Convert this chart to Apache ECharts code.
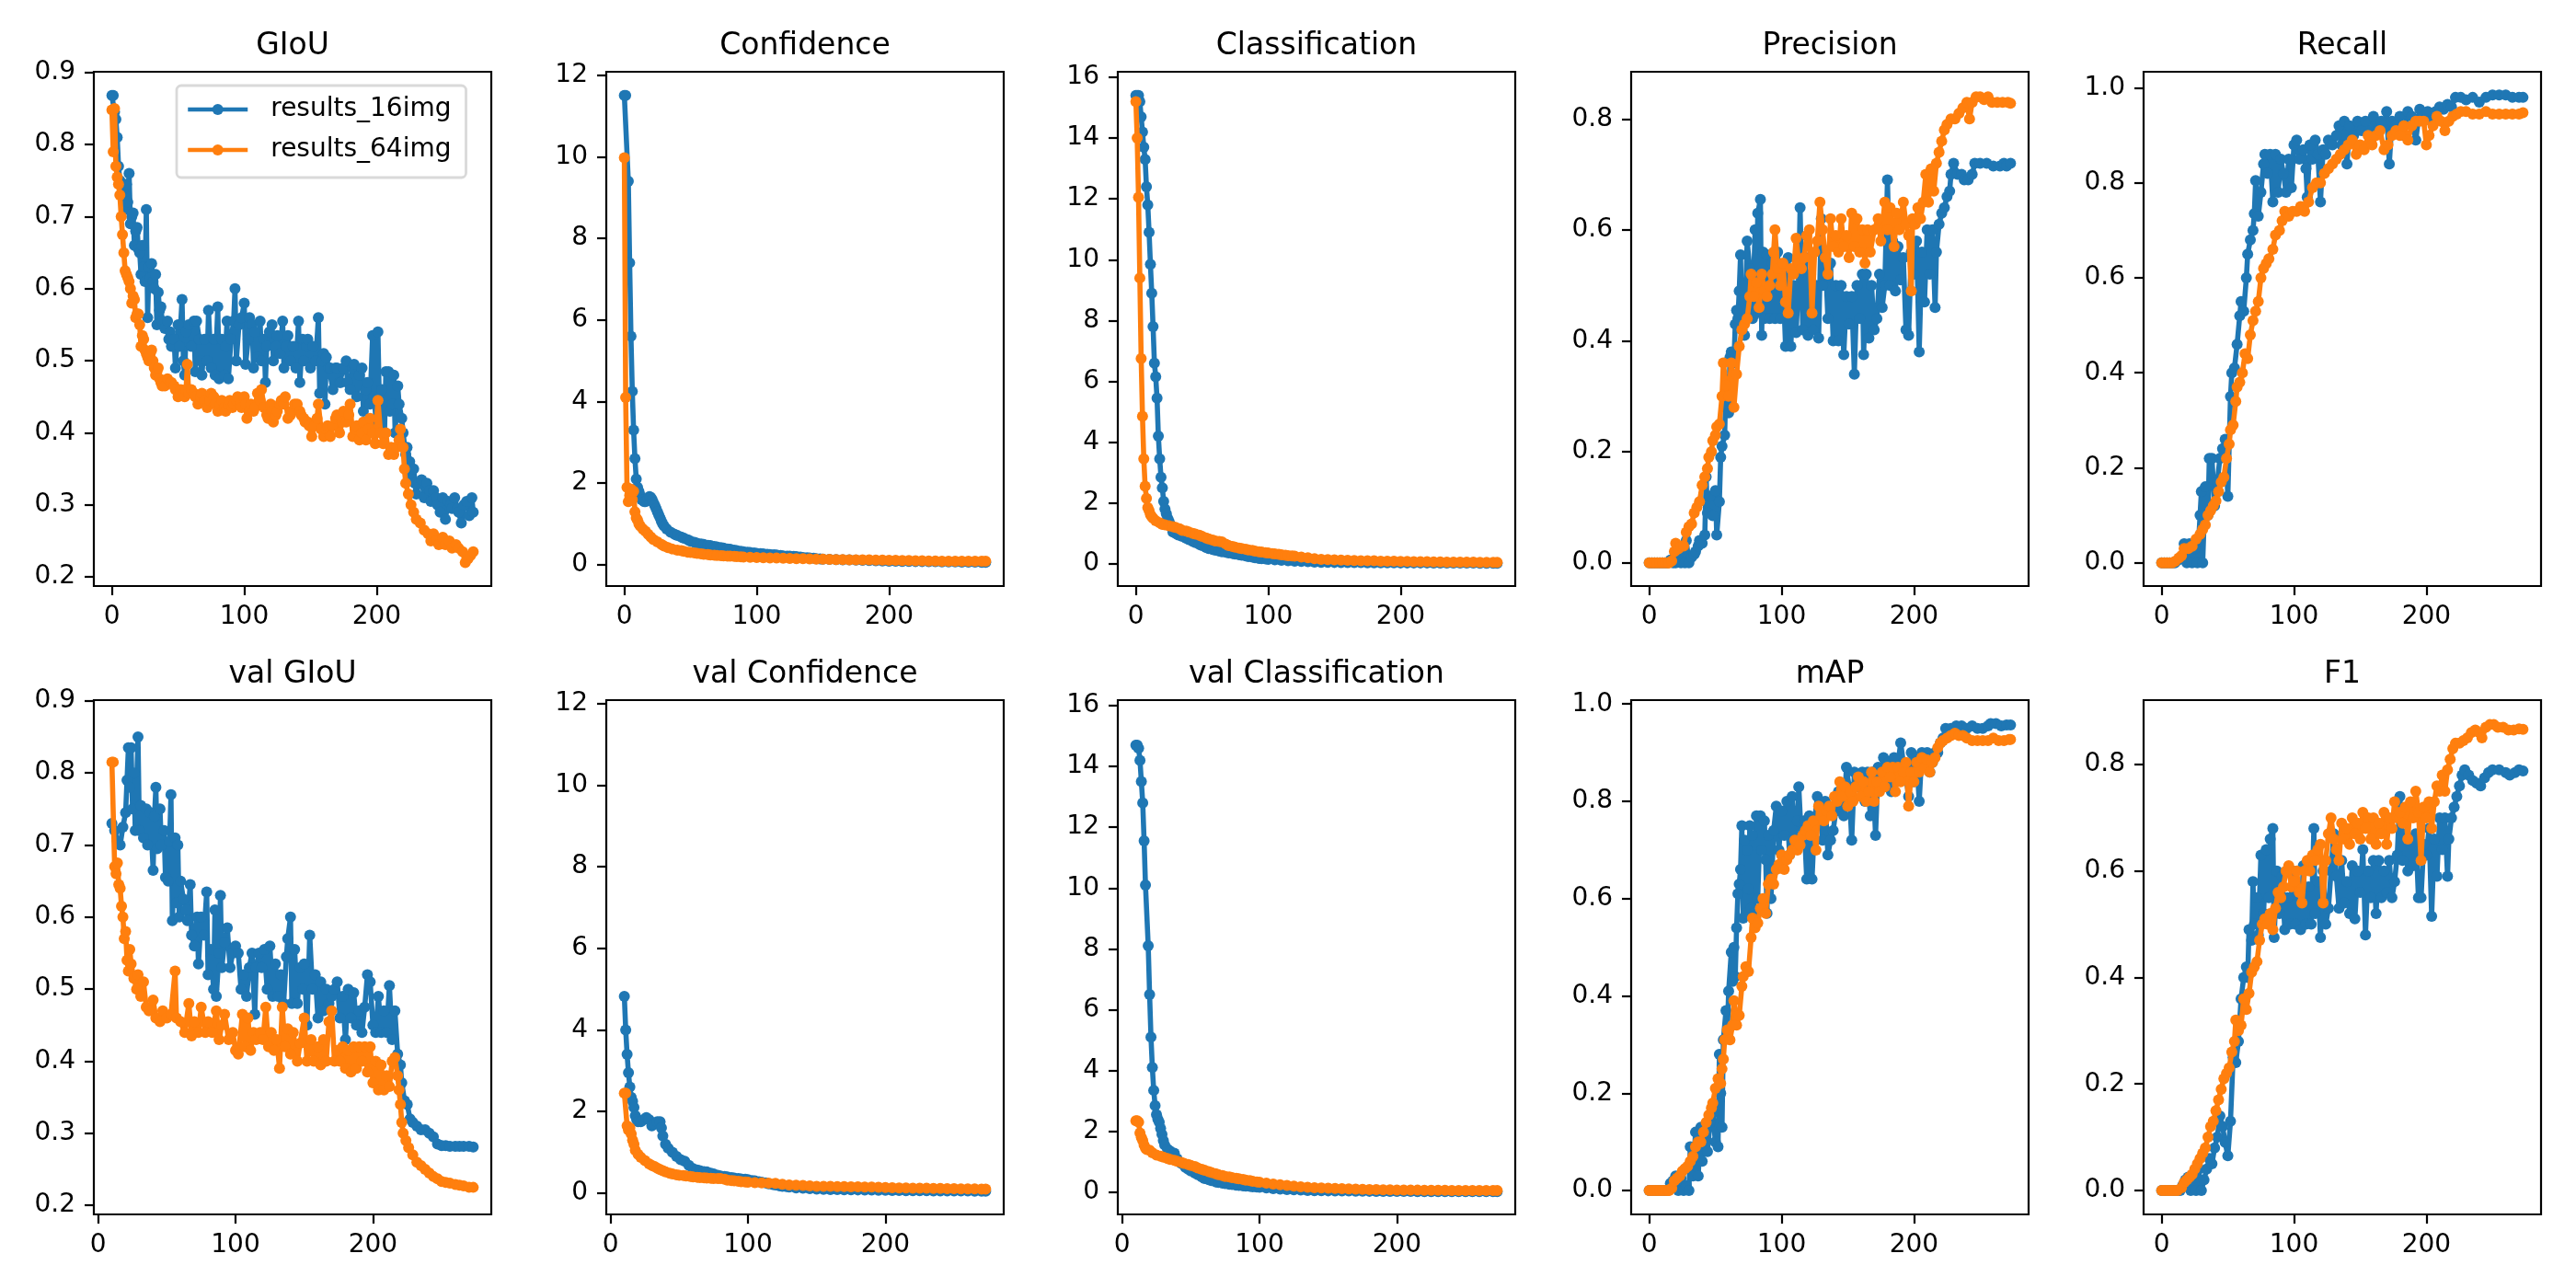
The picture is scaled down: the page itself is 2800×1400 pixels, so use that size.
<!DOCTYPE html>
<html><head><meta charset="utf-8">
<script src="https://cdn.jsdelivr.net/npm/echarts@6/dist/echarts.min.js"></script>
<style>html,body{margin:0;padding:0;background:#fff}#c{width:2800px;height:1400px}</style>
</head><body><div id="c"></div>
<script>
const panelTitles = ['GIoU','Confidence','Classification','Precision','Recall','val GIoU','val Confidence','val Classification','mAP','F1'];
const seriesNames = ['results_16img','results_64img'];
const xTicks = [0, 100, 200];
const yTicks = [
  [0.2,0.3,0.4,0.5,0.6,0.7,0.8,0.9],
  [0,2,4,6,8,10,12],
  [0,2,4,6,8,10,12,14,16],
  [0.0,0.2,0.4,0.6,0.8],
  [0.0,0.2,0.4,0.6,0.8,1.0],
  [0.2,0.3,0.4,0.5,0.6,0.7,0.8,0.9],
  [0,2,4,6,8,10,12],
  [0,2,4,6,8,10,12,14,16],
  [0.0,0.2,0.4,0.6,0.8,1.0],
  [0.0,0.2,0.4,0.6,0.8]
];
const yDecimals = [1,0,0,1,1,1,0,0,1,1];

const giou16 = [[0,0.868],[1,0.868],[2,0.845],[3,0.835],[4,0.81],[5,0.77],[6,0.75],[7,0.73],[8,0.745],[9,0.74],[10,0.71],[11,0.745],[12,0.72],[13,0.76],[14,0.69],[15,0.70],[16,0.705],[17,0.66],[18,0.68],[19,0.685],[20,0.655],[21,0.65],[22,0.62],[23,0.66],[24,0.63],[25,0.61],[26,0.71],[27,0.56],[28,0.63],[29,0.615],[30,0.635],[31,0.61],[32,0.6],[33,0.62],[34,0.55],[35,0.595],[36,0.57],[37,0.575],[38,0.555],[40,0.545],[42,0.555],[43,0.53],[44,0.54],[45,0.52],[47,0.53],[48,0.49],[50,0.55],[51,0.52],[53,0.585],[54,0.50],[55,0.48],[56,0.54],[58,0.55],[60,0.52],[62,0.555],[63,0.485],[64,0.555],[66,0.53],[67,0.50],[68,0.48],[70,0.53],[72,0.50],[73,0.57],[75,0.49],[77,0.53],[78,0.48],[80,0.575],[81,0.475],[83,0.53],[85,0.48],[86,0.52],[87,0.555],[88,0.475],[90,0.53],[92,0.555],[93,0.60],[94,0.50],[96,0.55],[98,0.56],[100,0.58],[101,0.495],[103,0.53],[104,0.56],[106,0.55],[107,0.49],[108,0.54],[110,0.505],[112,0.555],[113,0.50],[115,0.53],[116,0.47],[117,0.52],[119,0.54],[121,0.55],[122,0.50],[124,0.52],[125,0.535],[127,0.51],[129,0.555],[130,0.49],[132,0.52],[133,0.535],[135,0.50],[137,0.52],[139,0.49],[141,0.555],[142,0.47],[144,0.53],[145,0.50],[147,0.52],[148,0.53],[150,0.49],[152,0.52],[154,0.50],[156,0.56],[157,0.455],[159,0.50],[160,0.51],[161,0.44],[162,0.505],[164,0.49],[165,0.49],[167,0.46],[169,0.49],[170,0.49],[172,0.47],[173,0.47],[175,0.49],[177,0.50],[178,0.47],[180,0.46],[182,0.49],[183,0.495],[185,0.45],[187,0.48],[189,0.49],[190,0.43],[192,0.46],[193,0.47],[195,0.44],[197,0.535],[198,0.45],[200,0.41],[201,0.54],[202,0.45],[204,0.46],[206,0.40],[207,0.485],[209,0.485],[210,0.43],[212,0.44],[213,0.48],[214,0.40],[216,0.465],[217,0.44],[219,0.42],[220,0.40],[222,0.37],[223,0.38],[225,0.36],[226,0.34],[228,0.35],[229,0.33],[230,0.315],[232,0.33],[234,0.335],[236,0.31],[238,0.33],[240,0.32],[241,0.305],[243,0.32],[245,0.31],[246,0.30],[248,0.29],[250,0.31],[252,0.28],[254,0.305],[256,0.30],[257,0.295],[259,0.31],[261,0.295],[262,0.29],[264,0.275],[266,0.30],[268,0.305],[270,0.285],[272,0.31],[273,0.29]];
const giou64 = [[0,0.848],[1,0.79],[2,0.85],[3,0.77],[4,0.755],[5,0.745],[6,0.73],[7,0.70],[8,0.675],[9,0.65],[10,0.625],[11,0.62],[12,0.615],[13,0.61],[14,0.60],[15,0.58],[16,0.59],[17,0.585],[18,0.56],[19,0.565],[20,0.565],[21,0.55],[22,0.52],[23,0.535],[24,0.53],[25,0.515],[26,0.51],[27,0.505],[28,0.50],[29,0.51],[30,0.515],[31,0.50],[32,0.49],[33,0.48],[34,0.485],[35,0.49],[36,0.475],[37,0.47],[38,0.465],[39,0.47],[40,0.465],[42,0.475],[44,0.47],[45,0.47],[47,0.465],[48,0.46],[50,0.45],[52,0.46],[54,0.455],[55,0.45],[56,0.46],[57,0.495],[58,0.455],[60,0.46],[62,0.455],[63,0.45],[65,0.44],[67,0.45],[68,0.455],[70,0.445],[72,0.435],[74,0.445],[75,0.455],[77,0.45],[78,0.44],[80,0.43],[82,0.44],[83,0.445],[85,0.435],[86,0.43],[88,0.44],[89,0.445],[91,0.435],[92,0.44],[94,0.445],[95,0.45],[97,0.44],[98,0.435],[100,0.45],[101,0.44],[102,0.42],[104,0.43],[105,0.44],[107,0.43],[108,0.435],[110,0.455],[112,0.445],[113,0.46],[115,0.435],[117,0.425],[118,0.42],[120,0.44],[121,0.43],[122,0.415],[124,0.425],[125,0.43],[127,0.44],[128,0.445],[130,0.44],[131,0.45],[133,0.42],[135,0.425],[136,0.43],[138,0.44],[140,0.44],[142,0.43],[143,0.425],[145,0.42],[146,0.415],[148,0.415],[149,0.41],[151,0.395],[153,0.41],[155,0.42],[156,0.44],[158,0.405],[160,0.395],[162,0.405],[163,0.41],[165,0.395],[167,0.41],[169,0.42],[170,0.425],[172,0.40],[174,0.415],[175,0.43],[177,0.415],[179,0.425],[180,0.44],[182,0.395],[184,0.405],[185,0.41],[187,0.39],[189,0.40],[190,0.415],[192,0.39],[194,0.405],[195,0.42],[197,0.40],[199,0.385],[201,0.445],[203,0.40],[205,0.385],[207,0.40],[209,0.37],[211,0.38],[213,0.37],[215,0.38],[217,0.39],[218,0.405],[220,0.38],[221,0.35],[222,0.33],[224,0.315],[226,0.30],[228,0.29],[230,0.28],[233,0.275],[236,0.265],[239,0.26],[241,0.25],[243,0.26],[245,0.25],[247,0.245],[250,0.255],[252,0.245],[255,0.25],[257,0.24],[260,0.245],[262,0.24],[265,0.235],[267,0.22],[269,0.225],[271,0.23],[273,0.235]];

const conf16 = [[0,11.5],[1,11.5],[3,9.4],[4,7.4],[5,5.6],[6,4.25],[7,3.3],[8,2.6],[9,2.1],[10,1.9],[11,1.8],[12,1.7],[13,1.6],[14,1.58],[15,1.55],[16,1.55],[17,1.58],[18,1.62],[19,1.67],[20,1.65],[21,1.6],[22,1.52],[23,1.45],[24,1.38],[25,1.3],[26,1.22],[27,1.15],[28,1.07],[29,1.0],[30,0.95],[32,0.88],[35,0.8],[38,0.75],[40,0.72],[43,0.68],[45,0.65],[48,0.61],[50,0.58],[53,0.55],[55,0.53],[58,0.51],[60,0.5],[63,0.48],[65,0.47],[68,0.45],[70,0.44],[73,0.42],[75,0.41],[78,0.39],[80,0.38],[83,0.36],[85,0.35],[88,0.33],[90,0.32],[93,0.31],[95,0.3],[98,0.29],[100,0.28],[103,0.275],[105,0.27],[108,0.26],[110,0.25],[113,0.245],[115,0.24],[118,0.23],[120,0.22],[123,0.215],[125,0.21],[128,0.205],[130,0.2],[133,0.19],[135,0.18],[138,0.175],[140,0.17],[143,0.16],[145,0.15],[148,0.145],[150,0.14],[155,0.135],[160,0.13],[165,0.125],[170,0.12],[175,0.115],[180,0.11],[185,0.105],[190,0.1],[195,0.095],[200,0.09],[205,0.09],[210,0.085],[215,0.085],[220,0.08],[225,0.08],[230,0.075],[235,0.075],[240,0.07],[245,0.07],[250,0.07],[255,0.065],[260,0.065],[265,0.065],[270,0.06],[273,0.06]];
const conf64 = [[0,9.97],[1,4.1],[2,1.9],[3,1.55],[4,1.7],[5,1.85],[6,1.6],[7,1.8],[8,1.3],[9,1.15],[10,1.1],[11,1.0],[12,0.95],[14,0.88],[16,0.82],[18,0.75],[20,0.68],[22,0.62],[25,0.56],[28,0.5],[30,0.46],[33,0.42],[36,0.39],[40,0.36],[43,0.345],[45,0.33],[48,0.31],[50,0.3],[53,0.29],[55,0.28],[58,0.27],[60,0.26],[63,0.25],[65,0.24],[68,0.235],[70,0.23],[73,0.225],[75,0.22],[78,0.215],[80,0.21],[83,0.205],[85,0.2],[88,0.195],[90,0.19],[95,0.185],[100,0.18],[105,0.175],[110,0.17],[115,0.165],[120,0.16],[125,0.155],[130,0.15],[135,0.15],[140,0.145],[145,0.14],[150,0.14],[155,0.135],[160,0.13],[165,0.13],[170,0.125],[175,0.125],[180,0.12],[185,0.12],[190,0.115],[195,0.115],[200,0.11],[205,0.11],[210,0.105],[215,0.105],[220,0.1],[225,0.1],[230,0.095],[235,0.095],[240,0.09],[245,0.09],[250,0.09],[255,0.09],[260,0.09],[265,0.09],[270,0.09],[273,0.09]];

const cls16 = [[0,15.4],[1,15.4],[2,15.4],[3,15.2],[4,14.7],[5,14.2],[6,13.7],[7,13.3],[8,12.4],[9,11.8],[10,10.9],[11,9.85],[12,8.9],[13,7.8],[14,6.6],[15,6.15],[16,5.45],[17,4.2],[18,3.45],[19,2.85],[20,2.5],[21,2.05],[22,1.8],[23,1.65],[24,1.5],[25,1.4],[26,1.3],[27,1.2],[28,1.05],[30,1.0],[32,0.95],[35,0.9],[38,0.84],[40,0.8],[43,0.74],[45,0.7],[48,0.64],[50,0.6],[53,0.54],[55,0.5],[58,0.47],[60,0.45],[63,0.42],[65,0.4],[68,0.38],[70,0.36],[73,0.34],[75,0.32],[78,0.3],[80,0.28],[83,0.26],[85,0.24],[88,0.22],[90,0.2],[93,0.18],[95,0.17],[98,0.16],[100,0.15],[105,0.13],[110,0.12],[115,0.1],[120,0.09],[125,0.08],[130,0.07],[135,0.06],[140,0.05],[145,0.048],[150,0.045],[155,0.042],[160,0.04],[165,0.04],[170,0.038],[175,0.036],[180,0.035],[185,0.034],[190,0.033],[195,0.032],[200,0.03],[205,0.03],[210,0.03],[215,0.03],[220,0.03],[225,0.028],[230,0.028],[235,0.026],[240,0.025],[245,0.025],[250,0.025],[255,0.024],[260,0.022],[265,0.021],[270,0.02],[273,0.02]];
const cls64 = [[0,15.2],[1,14.0],[2,12.05],[3,9.4],[4,6.75],[5,4.85],[6,3.45],[7,2.55],[8,2.15],[9,1.85],[10,1.75],[11,1.62],[12,1.55],[13,1.5],[15,1.42],[18,1.35],[20,1.3],[22,1.28],[25,1.25],[28,1.22],[30,1.2],[33,1.15],[35,1.1],[38,1.08],[40,1.05],[43,1.0],[45,0.98],[48,0.94],[50,0.9],[53,0.85],[55,0.82],[58,0.78],[60,0.75],[63,0.74],[65,0.72],[68,0.65],[70,0.6],[73,0.57],[75,0.55],[78,0.52],[80,0.5],[83,0.48],[85,0.46],[88,0.44],[90,0.42],[93,0.4],[95,0.39],[98,0.37],[100,0.36],[103,0.34],[105,0.33],[108,0.31],[110,0.3],[113,0.28],[115,0.27],[118,0.26],[120,0.25],[125,0.22],[130,0.2],[135,0.17],[140,0.15],[145,0.14],[150,0.13],[155,0.125],[160,0.12],[165,0.11],[170,0.105],[175,0.1],[180,0.1],[185,0.09],[190,0.09],[195,0.085],[200,0.08],[205,0.08],[210,0.075],[215,0.07],[220,0.07],[225,0.065],[230,0.065],[235,0.06],[240,0.06],[245,0.06],[250,0.055],[255,0.055],[260,0.05],[265,0.05],[270,0.05],[273,0.05]];

const prec16 = [[0,0],[2,0],[4,0],[6,0],[8,0],[10,0],[12,0],[14,0],[16,0.005],[18,0],[20,0],[22,0.005],[24,0],[25,0.03],[27,0],[28,0.04],[30,0],[32,0.01],[34,0.015],[35,0.02],[37,0.03],[38,0.04],[40,0.035],[42,0.05],[43,0.155],[44,0.09],[46,0.12],[48,0.085],[50,0.13],[51,0.05],[53,0.11],[54,0.19],[55,0.21],[57,0.23],[58,0.33],[60,0.27],[61,0.37],[62,0.38],[64,0.36],[65,0.43],[66,0.455],[67,0.44],[68,0.49],[69,0.555],[70,0.42],[71,0.5],[72,0.41],[74,0.58],[76,0.53],[78,0.44],[80,0.6],[81,0.45],[82,0.63],[84,0.655],[85,0.41],[86,0.56],[87,0.44],[89,0.555],[91,0.44],[93,0.54],[95,0.44],[97,0.56],[99,0.44],[101,0.52],[103,0.39],[105,0.55],[107,0.39],[109,0.5],[111,0.415],[113,0.52],[114,0.64],[116,0.42],[118,0.55],[120,0.41],[122,0.52],[124,0.42],[126,0.50],[128,0.405],[130,0.62],[131,0.5],[133,0.555],[135,0.44],[137,0.54],[139,0.40],[141,0.5],[143,0.40],[145,0.50],[147,0.375],[149,0.48],[151,0.43],[153,0.48],[155,0.34],[157,0.5],[159,0.44],[161,0.52],[162,0.375],[164,0.52],[166,0.405],[168,0.50],[170,0.42],[172,0.44],[174,0.52],[176,0.46],[178,0.5],[180,0.69],[182,0.5],[184,0.58],[186,0.49],[188,0.57],[190,0.51],[192,0.55],[194,0.42],[196,0.41],[198,0.56],[200,0.52],[202,0.58],[204,0.38],[206,0.56],[208,0.47],[210,0.6],[212,0.52],[214,0.6],[216,0.46],[217,0.56],[219,0.61],[221,0.63],[223,0.64],[225,0.66],[227,0.67],[228,0.70],[230,0.72],[233,0.70],[236,0.70],[238,0.69],[241,0.69],[244,0.70],[246,0.72],[250,0.72],[255,0.72],[260,0.715],[265,0.715],[268,0.72],[270,0.715],[273,0.72]];
const prec64 = [[0,0],[2,0],[4,0],[6,0],[8,0],[10,0],[12,0],[14,0],[15,0],[17,0.003],[19,0.02],[20,0.035],[22,0.025],[24,0.03],[26,0.03],[28,0.055],[30,0.065],[32,0.07],[34,0.09],[36,0.1],[38,0.11],[40,0.14],[42,0.155],[44,0.17],[45,0.19],[47,0.2],[48,0.22],[50,0.23],[51,0.245],[53,0.25],[55,0.3],[56,0.36],[58,0.32],[60,0.3],[62,0.36],[64,0.28],[66,0.34],[68,0.39],[70,0.42],[72,0.43],[74,0.44],[76,0.48],[77,0.52],[79,0.48],[81,0.505],[83,0.46],[85,0.52],[87,0.49],[89,0.48],[91,0.5],[93,0.52],[94,0.56],[95,0.6],[97,0.53],[99,0.5],[101,0.54],[103,0.47],[105,0.45],[107,0.53],[109,0.52],[111,0.585],[113,0.54],[115,0.53],[117,0.55],[119,0.59],[121,0.6],[123,0.45],[125,0.56],[127,0.58],[129,0.65],[131,0.6],[133,0.55],[135,0.52],[137,0.62],[139,0.57],[141,0.59],[143,0.56],[145,0.62],[147,0.57],[149,0.59],[151,0.55],[153,0.63],[155,0.57],[157,0.62],[159,0.56],[161,0.6],[163,0.54],[165,0.6],[167,0.56],[170,0.6],[173,0.62],[175,0.58],[178,0.65],[180,0.6],[182,0.64],[185,0.57],[187,0.63],[189,0.6],[192,0.65],[194,0.61],[196,0.59],[198,0.49],[199,0.62],[201,0.61],[203,0.64],[205,0.62],[207,0.65],[209,0.7],[211,0.65],[213,0.71],[215,0.67],[217,0.72],[219,0.74],[221,0.76],[223,0.78],[225,0.79],[228,0.8],[231,0.8],[234,0.81],[237,0.82],[240,0.83],[242,0.8],[244,0.83],[247,0.84],[250,0.84],[253,0.835],[256,0.84],[259,0.83],[263,0.83],[267,0.83],[271,0.83],[273,0.828]];

const rec16 = [[0,0],[2,0],[4,0],[6,0],[8,0],[10,0],[12,0.005],[15,0.01],[17,0.04],[19,0],[21,0.04],[23,0],[25,0.03],[27,0],[29,0.1],[30,0.15],[31,0],[33,0.16],[35,0.1],[36,0.22],[38,0.22],[40,0.12],[42,0.17],[44,0.22],[46,0.24],[48,0.26],[50,0.14],[52,0.35],[53,0.4],[55,0.41],[57,0.46],[59,0.52],[60,0.55],[62,0.53],[64,0.6],[65,0.65],[67,0.68],[69,0.7],[70,0.735],[71,0.805],[73,0.73],[75,0.78],[77,0.84],[78,0.86],[80,0.82],[82,0.86],[84,0.76],[86,0.86],[88,0.78],[90,0.85],[92,0.82],[94,0.78],[96,0.85],[98,0.79],[100,0.88],[102,0.89],[104,0.85],[107,0.87],[109,0.83],[110,0.77],[112,0.88],[114,0.85],[116,0.89],[118,0.86],[120,0.76],[122,0.87],[124,0.86],[126,0.89],[129,0.88],[132,0.9],[134,0.92],[136,0.88],[138,0.93],[140,0.84],[142,0.92],[145,0.9],[148,0.93],[151,0.91],[154,0.93],[157,0.9],[160,0.94],[163,0.91],[166,0.93],[168,0.92],[170,0.95],[172,0.84],[174,0.93],[177,0.92],[180,0.94],[183,0.9],[186,0.95],[189,0.94],[192,0.89],[195,0.955],[198,0.94],[201,0.95],[204,0.93],[207,0.95],[210,0.96],[213,0.955],[216,0.965],[219,0.96],[222,0.98],[226,0.98],[230,0.975],[235,0.98],[240,0.97],[245,0.98],[250,0.985],[255,0.985],[260,0.985],[265,0.98],[270,0.98],[273,0.98]];
const rec64 = [[0,0],[2,0],[4,0],[6,0],[8,0],[10,0.003],[13,0.01],[15,0.015],[17,0.03],[20,0.03],[23,0.035],[26,0.05],[29,0.06],[31,0.07],[33,0.08],[35,0.1],[37,0.11],[39,0.12],[41,0.13],[43,0.15],[45,0.17],[47,0.18],[49,0.22],[51,0.25],[52,0.28],[54,0.29],[56,0.34],[57,0.37],[59,0.38],[61,0.4],[63,0.44],[65,0.43],[67,0.48],[69,0.51],[71,0.53],[73,0.55],[75,0.6],[77,0.62],[79,0.63],[81,0.64],[84,0.66],[86,0.69],[89,0.7],[91,0.72],[93,0.74],[96,0.73],[99,0.74],[102,0.74],[105,0.75],[108,0.74],[111,0.76],[114,0.79],[117,0.8],[120,0.8],[123,0.82],[126,0.83],[129,0.84],[132,0.85],[135,0.86],[138,0.87],[141,0.88],[144,0.89],[147,0.86],[150,0.88],[153,0.87],[156,0.9],[159,0.88],[162,0.9],[165,0.91],[168,0.87],[171,0.88],[174,0.9],[177,0.91],[180,0.9],[183,0.92],[186,0.89],[189,0.92],[192,0.93],[195,0.93],[198,0.93],[200,0.88],[202,0.9],[205,0.92],[208,0.94],[211,0.93],[214,0.91],[217,0.93],[220,0.94],[223,0.945],[226,0.95],[230,0.95],[235,0.945],[240,0.945],[245,0.95],[250,0.945],[255,0.945],[260,0.945],[265,0.945],[270,0.945],[273,0.948]];

const vgiou16 = [[10,0.73],[12,0.72],[14,0.705],[16,0.70],[18,0.725],[20,0.745],[21,0.79],[22,0.835],[23,0.78],[24,0.835],[25,0.75],[26,0.80],[27,0.72],[29,0.85],[30,0.72],[31,0.755],[33,0.71],[35,0.75],[36,0.70],[38,0.745],[40,0.665],[41,0.74],[42,0.78],[43,0.695],[45,0.75],[46,0.70],[48,0.72],[49,0.655],[51,0.65],[52,0.705],[53,0.77],[54,0.595],[56,0.71],[57,0.62],[58,0.70],[59,0.60],[60,0.65],[62,0.625],[64,0.61],[65,0.595],[67,0.645],[68,0.575],[70,0.56],[72,0.60],[73,0.535],[75,0.60],[77,0.575],[79,0.635],[80,0.52],[82,0.555],[84,0.50],[85,0.61],[86,0.49],[88,0.55],[89,0.63],[90,0.53],[92,0.565],[94,0.585],[96,0.53],[98,0.55],[100,0.56],[102,0.55],[104,0.50],[106,0.52],[108,0.49],[110,0.53],[112,0.55],[114,0.465],[115,0.53],[117,0.55],[119,0.53],[121,0.555],[123,0.50],[125,0.56],[127,0.49],[129,0.535],[131,0.49],[133,0.52],[135,0.48],[137,0.545],[138,0.57],[140,0.60],[141,0.48],[143,0.555],[145,0.48],[147,0.53],[149,0.50],[150,0.535],[152,0.45],[154,0.575],[156,0.50],[158,0.52],[160,0.46],[162,0.51],[164,0.47],[166,0.50],[168,0.48],[170,0.49],[172,0.50],[174,0.51],[176,0.46],[178,0.49],[180,0.43],[182,0.50],[184,0.46],[186,0.495],[188,0.45],[190,0.47],[192,0.44],[194,0.475],[196,0.52],[198,0.51],[200,0.45],[202,0.44],[204,0.49],[206,0.44],[208,0.47],[210,0.44],[212,0.505],[214,0.43],[216,0.47],[218,0.41],[220,0.395],[221,0.37],[223,0.345],[225,0.34],[227,0.32],[229,0.315],[232,0.31],[235,0.305],[238,0.305],[241,0.30],[244,0.295],[247,0.285],[250,0.283],[253,0.283],[256,0.282],[260,0.282],[263,0.282],[266,0.282],[270,0.282],[273,0.281]];
const vgiou64 = [[10,0.815],[11,0.815],[12,0.67],[13,0.66],[14,0.675],[15,0.645],[16,0.64],[17,0.615],[18,0.6],[19,0.57],[20,0.58],[21,0.54],[22,0.525],[23,0.555],[24,0.535],[26,0.515],[28,0.50],[29,0.52],[31,0.49],[33,0.51],[35,0.475],[37,0.47],[40,0.485],[42,0.46],[45,0.455],[47,0.47],[50,0.46],[53,0.465],[56,0.525],[57,0.46],[60,0.455],[63,0.44],[66,0.48],[68,0.435],[70,0.455],[73,0.44],[75,0.475],[78,0.44],[80,0.455],[83,0.44],[86,0.47],[88,0.43],[90,0.45],[92,0.465],[95,0.43],[98,0.44],[100,0.415],[102,0.41],[105,0.465],[107,0.42],[109,0.46],[111,0.415],[113,0.44],[115,0.43],[118,0.44],[120,0.43],[122,0.475],[124,0.42],[126,0.44],[128,0.415],[130,0.43],[132,0.39],[134,0.475],[136,0.42],[138,0.445],[140,0.41],[142,0.44],[145,0.40],[147,0.425],[150,0.46],[152,0.40],[155,0.43],[157,0.40],[160,0.42],[162,0.395],[164,0.43],[166,0.40],[168,0.455],[170,0.47],[172,0.40],[174,0.415],[176,0.40],[178,0.42],[180,0.39],[182,0.415],[184,0.385],[186,0.42],[188,0.39],[190,0.42],[192,0.40],[194,0.42],[196,0.385],[198,0.42],[200,0.37],[202,0.40],[204,0.36],[206,0.395],[208,0.36],[210,0.38],[212,0.365],[214,0.40],[216,0.405],[218,0.38],[219,0.36],[220,0.34],[221,0.315],[222,0.30],[224,0.29],[226,0.28],[229,0.27],[232,0.26],[235,0.255],[238,0.25],[241,0.245],[244,0.24],[247,0.237],[250,0.233],[253,0.232],[256,0.231],[260,0.229],[263,0.228],[266,0.227],[270,0.225],[273,0.225]];

const vconf16 = [[10,4.82],[11,4.0],[12,3.4],[13,2.95],[14,2.6],[15,2.35],[16,2.25],[17,2.1],[18,1.9],[19,1.8],[20,1.75],[22,1.75],[24,1.8],[26,1.85],[28,1.8],[30,1.65],[32,1.7],[34,1.75],[36,1.75],[37,1.6],[38,1.4],[40,1.2],[42,1.1],[45,1.0],[48,0.9],[51,0.82],[54,0.78],[57,0.68],[60,0.6],[63,0.57],[65,0.55],[68,0.53],[70,0.52],[73,0.49],[75,0.47],[78,0.44],[80,0.42],[83,0.41],[85,0.4],[88,0.38],[90,0.37],[93,0.36],[95,0.35],[98,0.34],[100,0.33],[103,0.31],[105,0.3],[108,0.28],[110,0.27],[113,0.25],[115,0.23],[118,0.21],[120,0.2],[123,0.18],[125,0.17],[128,0.16],[130,0.15],[135,0.13],[140,0.12],[145,0.11],[150,0.1],[155,0.095],[160,0.09],[165,0.088],[170,0.085],[175,0.083],[180,0.08],[185,0.078],[190,0.075],[195,0.073],[200,0.07],[205,0.068],[210,0.065],[215,0.063],[220,0.06],[225,0.059],[230,0.058],[235,0.057],[240,0.055],[245,0.054],[250,0.053],[255,0.052],[260,0.052],[265,0.051],[270,0.05],[273,0.05]];
const vconf64 = [[10,2.45],[11,2.45],[12,1.65],[13,1.55],[14,1.6],[15,1.45],[16,1.3],[17,1.2],[18,1.05],[20,0.95],[22,0.88],[25,0.8],[28,0.72],[30,0.68],[32,0.65],[34,0.61],[36,0.58],[38,0.55],[40,0.52],[43,0.49],[45,0.47],[48,0.45],[50,0.44],[53,0.43],[55,0.42],[58,0.41],[60,0.4],[63,0.39],[65,0.38],[68,0.375],[70,0.37],[73,0.365],[75,0.36],[78,0.36],[80,0.36],[83,0.34],[85,0.32],[88,0.31],[90,0.3],[93,0.29],[95,0.28],[98,0.275],[100,0.27],[105,0.26],[110,0.25],[115,0.245],[120,0.24],[125,0.22],[130,0.2],[135,0.195],[140,0.19],[145,0.18],[150,0.17],[155,0.168],[160,0.165],[165,0.163],[170,0.16],[175,0.158],[180,0.155],[185,0.152],[190,0.15],[195,0.145],[200,0.14],[205,0.135],[210,0.13],[215,0.128],[220,0.125],[225,0.122],[230,0.12],[235,0.118],[240,0.115],[245,0.112],[250,0.11],[255,0.108],[260,0.105],[265,0.103],[270,0.1],[273,0.1]];

const vcls16 = [[10,14.7],[11,14.7],[12,14.6],[13,14.2],[14,13.5],[15,12.8],[16,11.55],[17,10.1],[19,8.1],[20,6.5],[21,5.1],[22,4.1],[23,3.35],[24,2.85],[25,2.55],[26,2.4],[27,2.3],[28,2.1],[29,1.9],[30,1.7],[31,1.55],[33,1.42],[35,1.35],[38,1.28],[40,1.1],[43,0.95],[46,0.82],[48,0.76],[50,0.7],[53,0.63],[55,0.58],[58,0.5],[60,0.45],[63,0.41],[65,0.38],[68,0.34],[70,0.32],[73,0.3],[75,0.28],[78,0.26],[80,0.25],[83,0.23],[85,0.22],[88,0.21],[90,0.2],[93,0.19],[95,0.18],[98,0.17],[100,0.16],[105,0.14],[110,0.12],[115,0.1],[120,0.09],[125,0.08],[130,0.07],[135,0.06],[140,0.05],[145,0.048],[150,0.045],[155,0.042],[160,0.04],[165,0.038],[170,0.035],[175,0.033],[180,0.03],[185,0.029],[190,0.028],[195,0.026],[200,0.025],[205,0.024],[210,0.023],[215,0.022],[220,0.022],[225,0.021],[230,0.021],[235,0.02],[240,0.02],[245,0.02],[250,0.02],[255,0.02],[260,0.02],[265,0.02],[270,0.02],[273,0.02]];
const vcls64 = [[10,2.35],[11,2.35],[12,2.3],[13,1.95],[14,1.8],[15,1.7],[16,1.55],[17,1.45],[18,1.4],[20,1.38],[22,1.3],[25,1.22],[28,1.18],[30,1.15],[33,1.11],[35,1.08],[38,1.05],[40,1.02],[43,0.98],[45,0.95],[48,0.91],[50,0.88],[53,0.84],[55,0.8],[58,0.75],[60,0.72],[63,0.68],[65,0.65],[68,0.61],[70,0.58],[73,0.55],[75,0.52],[78,0.5],[80,0.48],[83,0.46],[85,0.44],[88,0.42],[90,0.4],[93,0.38],[95,0.36],[98,0.34],[100,0.33],[105,0.3],[110,0.27],[115,0.245],[120,0.22],[125,0.2],[130,0.18],[135,0.165],[140,0.15],[145,0.14],[150,0.13],[155,0.122],[160,0.115],[165,0.108],[170,0.1],[175,0.095],[180,0.09],[185,0.085],[190,0.08],[195,0.078],[200,0.075],[205,0.072],[210,0.07],[215,0.068],[220,0.065],[225,0.063],[230,0.062],[235,0.061],[240,0.06],[245,0.059],[250,0.058],[255,0.057],[260,0.056],[265,0.055],[270,0.055],[273,0.055]];

const map16 = [[0,0],[2,0],[4,0],[6,0],[8,0],[10,0],[12,0],[14,0],[16,0.015],[18,0.02],[20,0.03],[22,0],[24,0.025],[26,0],[28,0.01],[30,0],[31,0.09],[33,0.03],[35,0.12],[37,0.03],[39,0.13],[40,0.06],[42,0.12],[44,0.08],[46,0.14],[48,0.16],[50,0.1],[52,0.09],[53,0.28],[54,0.2],[55,0.13],[56,0.31],[58,0.37],[59,0.32],[60,0.41],[62,0.49],[63,0.43],[64,0.5],[65,0.44],[66,0.54],[67,0.61],[68,0.63],[69,0.66],[70,0.75],[71,0.56],[72,0.72],[73,0.57],[74,0.7],[75,0.62],[76,0.75],[77,0.58],[78,0.73],[79,0.57],[81,0.77],[82,0.6],[84,0.77],[85,0.7],[87,0.76],[88,0.68],[89,0.57],[90,0.73],[92,0.6],[94,0.74],[96,0.79],[98,0.7],[100,0.78],[102,0.73],[104,0.8],[106,0.69],[108,0.81],[110,0.73],[112,0.76],[113,0.83],[115,0.72],[117,0.76],[119,0.64],[121,0.77],[123,0.64],[125,0.76],[127,0.81],[129,0.8],[131,0.72],[133,0.8],[135,0.69],[137,0.72],[139,0.74],[141,0.78],[143,0.82],[145,0.78],[147,0.77],[149,0.87],[151,0.83],[153,0.72],[155,0.86],[157,0.83],[159,0.84],[161,0.86],[163,0.8],[165,0.86],[167,0.77],[169,0.86],[171,0.73],[173,0.87],[175,0.86],[177,0.89],[179,0.83],[181,0.88],[183,0.82],[185,0.89],[187,0.86],[190,0.92],[192,0.88],[194,0.85],[196,0.81],[198,0.9],[200,0.84],[202,0.89],[204,0.8],[206,0.9],[208,0.88],[210,0.9],[212,0.86],[214,0.88],[216,0.9],[218,0.9],[220,0.92],[222,0.93],[224,0.95],[228,0.95],[232,0.955],[236,0.955],[240,0.95],[244,0.955],[248,0.95],[252,0.95],[256,0.955],[258,0.96],[262,0.96],[266,0.955],[270,0.957],[273,0.957]];
const map64 = [[0,0],[2,0],[4,0],[6,0],[8,0],[10,0],[12,0],[14,0],[15,0],[17,0.005],[19,0.02],[21,0.025],[23,0.03],[25,0.04],[27,0.045],[29,0.05],[31,0.06],[33,0.07],[35,0.09],[37,0.1],[39,0.1],[41,0.12],[43,0.14],[45,0.155],[47,0.17],[48,0.18],[50,0.21],[52,0.23],[54,0.22],[55,0.25],[56,0.27],[57,0.31],[59,0.33],[61,0.31],[63,0.34],[64,0.39],[66,0.34],[68,0.36],[70,0.42],[71,0.44],[73,0.46],[75,0.45],[77,0.52],[78,0.56],[80,0.54],[82,0.55],[84,0.58],[86,0.6],[88,0.57],[90,0.63],[92,0.64],[94,0.63],[96,0.66],[98,0.67],[100,0.69],[102,0.66],[104,0.68],[106,0.69],[108,0.7],[110,0.72],[112,0.7],[114,0.71],[116,0.73],[118,0.74],[120,0.75],[122,0.73],[124,0.76],[126,0.7],[128,0.79],[130,0.77],[132,0.76],[134,0.78],[136,0.79],[138,0.77],[140,0.81],[142,0.8],[144,0.84],[146,0.81],[148,0.83],[150,0.79],[152,0.82],[154,0.8],[156,0.83],[158,0.85],[160,0.81],[162,0.84],[164,0.8],[166,0.82],[168,0.86],[170,0.8],[172,0.84],[174,0.82],[176,0.86],[178,0.83],[180,0.87],[182,0.85],[184,0.87],[186,0.82],[188,0.87],[190,0.84],[192,0.86],[194,0.88],[196,0.79],[198,0.86],[200,0.84],[202,0.88],[204,0.86],[206,0.89],[208,0.87],[210,0.885],[212,0.86],[214,0.88],[216,0.89],[218,0.91],[220,0.92],[222,0.925],[225,0.93],[228,0.935],[231,0.94],[234,0.935],[237,0.935],[240,0.93],[244,0.925],[248,0.925],[252,0.925],[256,0.925],[260,0.93],[264,0.925],[268,0.925],[272,0.927],[273,0.927]];

const f116 = [[0,0],[2,0],[4,0],[6,0],[8,0],[10,0],[12,0],[14,0],[16,0.01],[18,0.02],[20,0.025],[22,0],[24,0.03],[26,0],[28,0.04],[30,0],[32,0.02],[34,0.04],[36,0.06],[38,0.05],[40,0.08],[42,0.1],[44,0.14],[46,0.12],[48,0.09],[50,0.065],[52,0.13],[54,0.25],[56,0.24],[58,0.28],[60,0.36],[62,0.4],[64,0.42],[65,0.4],[66,0.49],[68,0.47],[69,0.58],[70,0.5],[72,0.55],[73,0.48],[75,0.63],[77,0.52],[79,0.64],[81,0.55],[82,0.66],[84,0.68],[85,0.475],[87,0.6],[89,0.52],[91,0.59],[93,0.49],[95,0.55],[97,0.5],[99,0.6],[101,0.5],[103,0.57],[105,0.49],[107,0.61],[109,0.5],[111,0.57],[113,0.5],[115,0.68],[116,0.52],[118,0.58],[120,0.475],[122,0.6],[124,0.5],[126,0.53],[128,0.6],[130,0.67],[132,0.59],[134,0.53],[136,0.62],[138,0.54],[140,0.58],[142,0.52],[144,0.61],[146,0.51],[148,0.6],[150,0.56],[152,0.64],[154,0.48],[156,0.6],[158,0.55],[160,0.62],[162,0.52],[164,0.62],[166,0.55],[168,0.6],[170,0.56],[172,0.62],[174,0.55],[176,0.58],[178,0.63],[180,0.74],[182,0.62],[184,0.67],[186,0.6],[188,0.65],[190,0.61],[192,0.67],[194,0.55],[196,0.55],[198,0.65],[200,0.63],[202,0.68],[204,0.515],[206,0.66],[208,0.59],[210,0.7],[212,0.64],[214,0.7],[216,0.59],[217,0.66],[219,0.7],[221,0.72],[223,0.74],[225,0.76],[227,0.78],[229,0.79],[232,0.78],[235,0.77],[238,0.765],[241,0.76],[244,0.775],[247,0.785],[250,0.79],[255,0.79],[260,0.785],[263,0.78],[267,0.785],[270,0.79],[273,0.788]];
const f164 = [[0,0],[2,0],[4,0],[6,0],[8,0],[10,0],[12,0],[15,0.005],[17,0.015],[19,0.02],[21,0.025],[23,0.03],[25,0.04],[27,0.05],[29,0.06],[31,0.07],[33,0.08],[35,0.1],[37,0.12],[39,0.13],[41,0.15],[43,0.17],[45,0.19],[47,0.21],[49,0.22],[51,0.23],[53,0.26],[55,0.28],[56,0.32],[58,0.3],[60,0.31],[62,0.36],[64,0.34],[66,0.37],[68,0.41],[70,0.42],[72,0.43],[74,0.47],[76,0.5],[78,0.51],[80,0.5],[82,0.52],[84,0.49],[86,0.53],[88,0.56],[90,0.55],[92,0.57],[94,0.6],[96,0.61],[98,0.57],[100,0.58],[102,0.6],[104,0.56],[106,0.54],[108,0.6],[110,0.62],[112,0.6],[114,0.63],[116,0.62],[118,0.64],[120,0.65],[122,0.54],[124,0.62],[126,0.67],[128,0.7],[130,0.66],[132,0.64],[134,0.62],[136,0.69],[138,0.66],[140,0.68],[142,0.65],[144,0.7],[146,0.67],[148,0.69],[150,0.66],[152,0.71],[154,0.68],[156,0.7],[158,0.66],[160,0.7],[162,0.65],[164,0.69],[166,0.67],[168,0.71],[170,0.65],[172,0.7],[174,0.68],[176,0.73],[178,0.7],[180,0.71],[182,0.69],[184,0.72],[186,0.66],[188,0.73],[190,0.7],[192,0.75],[194,0.71],[196,0.62],[198,0.72],[200,0.7],[202,0.73],[204,0.68],[206,0.73],[208,0.76],[210,0.75],[212,0.78],[214,0.75],[216,0.79],[218,0.81],[220,0.83],[222,0.84],[225,0.84],[228,0.845],[231,0.85],[234,0.86],[237,0.865],[240,0.86],[242,0.85],[245,0.87],[248,0.875],[251,0.875],[254,0.87],[258,0.87],[262,0.865],[266,0.865],[270,0.867],[273,0.866]];

const panelData = [
  [giou16, giou64], [conf16, conf64], [cls16, cls64], [prec16, prec64], [rec16, rec64],
  [vgiou16, vgiou64], [vconf16, vconf64], [vcls16, vcls64], [map16, map64], [f116, f164]
];

// axis limits (matplotlib autoscale incl. 5% margins, train/val losses share y)
const xLims = [[-13.65,286.65],[-13.65,286.65],[-13.65,286.65],[-13.65,286.65],[-13.65,286.65],
               [-3.15,286.15],[-3.15,286.15],[-3.15,286.15],[-13.65,286.65],[-13.65,286.65]];
const yLims = [[0.1875,0.901],[-0.52,12.08],[-0.73,16.18],[-0.042,0.885],[-0.049,1.034],
               [0.1875,0.901],[-0.52,12.08],[-0.73,16.18],[-0.049,1.008],[-0.045,0.921]];

// layout
const colLeft = [102, 659, 1215, 1773, 2330];
const rowTop = [78, 761];
const gW = 432, gH = 559;
const colors = ['#1f77b4', '#ff7f0e'];
const FONT = 'DejaVu Sans';

const grids = [], xAxes = [], yAxes = [], series = [], graphics = [];
for (let i = 0; i < 10; i++) {
  const c = i % 5, r = Math.floor(i / 5);
  grids.push({left: colLeft[c], top: rowTop[r], width: gW, height: gH, show: true,
    borderColor: '#000', borderWidth: 2.2, backgroundColor: 'transparent', containLabel: false});
  const tick = {show: true, length: 10, inside: false, lineStyle: {color: '#000', width: 2.2}};
  xAxes.push({type: 'value', gridIndex: i, min: xLims[i][0], max: xLims[i][1], position: 'bottom',
    axisLine: {show: false, onZero: false}, splitLine: {show: false},
    axisTick: Object.assign({customValues: xTicks}, tick),
    axisLabel: {customValues: xTicks, fontSize: 28, fontFamily: FONT, color: '#000', margin: 20,
      formatter: v => String(Math.round(v))}});
  const dec = yDecimals[i];
  yAxes.push({type: 'value', gridIndex: i, min: yLims[i][0], max: yLims[i][1], position: 'left',
    axisLine: {show: false, onZero: false}, splitLine: {show: false},
    axisTick: Object.assign({customValues: yTicks[i]}, tick),
    axisLabel: {customValues: yTicks[i], fontSize: 28, fontFamily: FONT, color: '#000', margin: 20,
      formatter: v => Number(v).toFixed(dec)}});
  for (let s = 0; s < 2; s++) {
    series.push({type: 'line', name: seriesNames[s], xAxisIndex: i, yAxisIndex: i,
      data: panelData[i][s], symbol: 'circle', symbolSize: 12, showSymbol: true, showAllSymbol: true,
      lineStyle: {width: 5.6, color: colors[s]}, itemStyle: {color: colors[s]},
      emphasis: {disabled: true}, clip: true, z: 2 + s});
  }
  graphics.push({type: 'text', x: colLeft[c] + gW / 2, y: r === 0 ? 50 : 733,
    style: {text: panelTitles[i], fontSize: 33, fontFamily: FONT, fill: '#000',
      align: 'center', verticalAlign: 'middle', textAlign: 'center', textVerticalAlign: 'middle'}});
}

const chart = echarts.init(document.getElementById('c'), null, {renderer: 'canvas'});
chart.setOption({
  animation: false,
  backgroundColor: '#fff',
  grid: grids, xAxis: xAxes, yAxis: yAxes, series: series, graphic: graphics,
  legend: {data: seriesNames, orient: 'vertical', left: 192, top: 93,
    itemWidth: 65, itemHeight: 15, itemGap: 16, padding: [12, 16, 16, 10],
    lineStyle: {width: 4.5}, inactiveColor: '#ccc',
    backgroundColor: 'rgba(255,255,255,0.8)', borderColor: '#d9d9d9', borderWidth: 2.8, borderRadius: 5,
    textStyle: {fontSize: 28, fontFamily: FONT, color: '#000', padding: [0, 0, 0, 20], lineHeight: 28}, z: 10}
});
</script></body></html>
